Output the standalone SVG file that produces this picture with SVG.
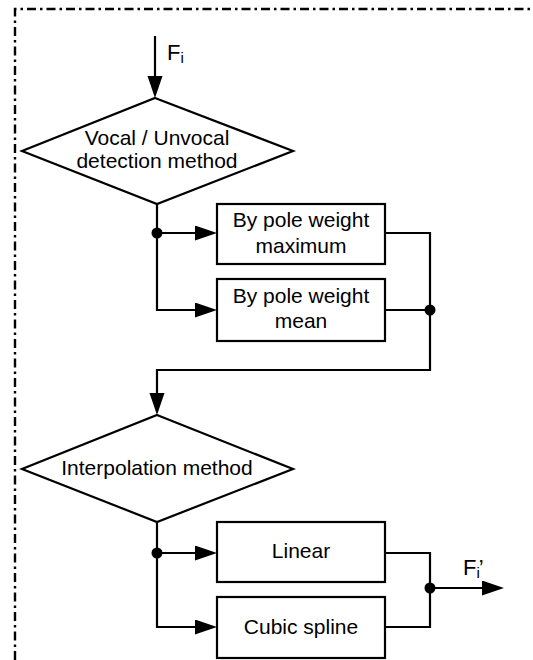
<svg xmlns="http://www.w3.org/2000/svg" width="533" height="660" viewBox="0 0 533 660">
  <style>
    .shape { fill: #fff; stroke: #000; stroke-width: 2.2; }
    .wire { fill: none; stroke: #000; stroke-width: 2.2; }
    .frame { fill: none; stroke: #000; stroke-width: 2.4; stroke-dasharray: 9 4 2.5 4; }
    .lbl { font-family: "Liberation Sans", Arial, sans-serif; font-size: 21px; fill: #000; text-anchor: middle; }
    .io { font-family: "Liberation Sans", Arial, sans-serif; font-size: 22px; fill: #000; }
    .sub { font-size: 15px; }
  </style>
  <defs>
    <marker id="arrow" markerUnits="userSpaceOnUse" markerWidth="22" markerHeight="16" refX="18" refY="7.5" orient="auto">
      <path d="M0,0 L22,7.5 L0,15 Z" fill="#000"/>
    </marker>
  </defs>

  <rect width="533" height="660" fill="#fff"/>

  <!-- dash-dot frame (top and left edges) -->
  <path class="frame" d="M15,660 L15,9 L533,9"/>

  <!-- connectors -->
  <g id="connectors">
    <path class="wire" d="M155,36 L155,94" marker-end="url(#arrow)"/>
    <path class="wire" d="M157,204 L157,310 L213,310" marker-end="url(#arrow)"/>
    <path class="wire" d="M157,233 L213,233" marker-end="url(#arrow)"/>
    <path class="wire" d="M385,233 L430,233 L430,370 L157,370 L157,411" marker-end="url(#arrow)"/>
    <path class="wire" d="M385,310 L430,310"/>
    <path class="wire" d="M157,522 L157,627 L213,627" marker-end="url(#arrow)"/>
    <path class="wire" d="M157,553 L213,553" marker-end="url(#arrow)"/>
    <path class="wire" d="M385,553 L430,553 L430,627 L385,627"/>
    <path class="wire" d="M430,588 L500,588" marker-end="url(#arrow)"/>
    <circle cx="157" cy="233" r="5.5" fill="#000"/>
    <circle cx="430" cy="310" r="5.5" fill="#000"/>
    <circle cx="157" cy="553" r="5.5" fill="#000"/>
    <circle cx="430" cy="588" r="5.5" fill="#000"/>
  </g>

  <!-- input / output labels -->
  <g id="input-label">
    <text class="io" x="167" y="60">F<tspan class="sub" dy="3">i</tspan></text>
  </g>
  <g id="output-label">
    <text class="io" x="463" y="575">F<tspan class="sub" dy="3">i</tspan><tspan dy="-3" dx="-1">’</tspan></text>
  </g>

  <!-- decision: vocal / unvocal detection -->
  <g id="vuv-decision">
    <polygon class="shape" points="155,98 293,151 157,204 22,151"/>
    <text class="lbl" x="157" y="145">Vocal / Unvocal</text>
    <text class="lbl" x="157" y="168">detection method</text>
  </g>

  <g id="pole-max">
    <rect class="shape" x="217" y="204" width="168" height="60"/>
    <text class="lbl" x="301" y="227">By pole weight</text>
    <text class="lbl" x="301" y="253">maximum</text>
  </g>

  <g id="pole-mean">
    <rect class="shape" x="217" y="279" width="168" height="62"/>
    <text class="lbl" x="301" y="303">By pole weight</text>
    <text class="lbl" x="301" y="328">mean</text>
  </g>

  <!-- decision: interpolation -->
  <g id="interp-decision">
    <polygon class="shape" points="157,415 293,469 157,522 22,469"/>
    <text class="lbl" x="157" y="475">Interpolation method</text>
  </g>

  <g id="linear">
    <rect class="shape" x="217" y="522" width="168" height="60"/>
    <text class="lbl" x="301" y="558">Linear</text>
  </g>

  <g id="cubic-spline">
    <rect class="shape" x="217" y="597" width="168" height="61"/>
    <text class="lbl" x="301" y="634">Cubic spline</text>
  </g>
</svg>
